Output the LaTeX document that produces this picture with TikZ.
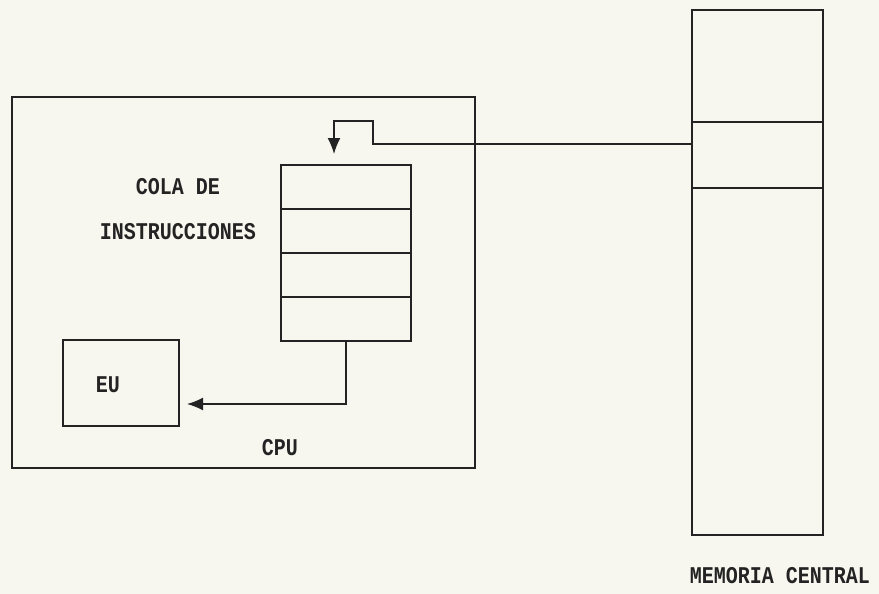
\documentclass[tikz,border=0pt]{standalone}
\usepackage{graphicx}
\usepackage{fontspec}
\setmonofont{Liberation Mono}
\usetikzlibrary{arrows.meta}
\definecolor{bgc}{RGB}{247,247,240}
\definecolor{ink}{RGB}{35,35,35}
\newcommand{\tallt}[1]{\scalebox{1}[1.2]{#1}}
\begin{document}
\begin{tikzpicture}[x=1pt,y=-1pt, line width=1.5pt, draw=ink,
  box/.style={draw=ink, line width=1.5pt, inner sep=0pt, outer sep=0pt, anchor=north west},
  lbl/.style={font=\ttfamily\bfseries\fontsize{20}{24}\selectfont, text=ink, inner sep=0pt},
  arr/.style={draw=ink, line width=1.5pt, -{Latex[length=16pt,width=13pt]}}]
\fill[bgc] (0,0) rectangle (879,594);
\useasboundingbox (0,0) rectangle (879,594);
% CPU
\node[box, minimum width=463pt, minimum height=371pt] (cpu) at (12,97) {};
% queue
\node[box, minimum width=130pt, minimum height=44pt] (q1) at (281,165) {};
\node[box, minimum width=130pt, minimum height=44pt] (q2) at (q1.south west) {};
\node[box, minimum width=130pt, minimum height=44pt] (q3) at (q2.south west) {};
\node[box, minimum width=130pt, minimum height=44pt] (q4) at (q3.south west) {};
% EU
\node[box, minimum width=116pt, minimum height=86pt] (eu) at (63,340) {};
\node[lbl] (eut) at (108,385) {\tallt{EU}};
% memory
\node[box, minimum width=131pt, minimum height=112pt] (m1) at (692,10) {};
\node[box, minimum width=131pt, minimum height=66pt] (m2) at (m1.south west) {};
\node[box, minimum width=131pt, minimum height=347pt] (m3) at (m2.south west) {};
% labels
\node[lbl] (cola) at (178,187) {\tallt{COLA DE}};
\node[lbl] (instr) at (178,232) {\tallt{INSTRUCCIONES}};
\node[lbl] (cput) at (280,448) {\tallt{CPU}};
\node[lbl] (memt) at (780,576) {\tallt{MEMORIA CENTRAL}};
% connectors
\draw[arr] ([yshift=-22pt]m2.north west) -- ++(-319,0) -- ++(0,-23) -- ++(-39,0) -- ++(0,33);
\draw[arr] (q4.south) |- ([shift={(8pt,-21pt)}]eu.east);
\end{tikzpicture}
\end{document}
